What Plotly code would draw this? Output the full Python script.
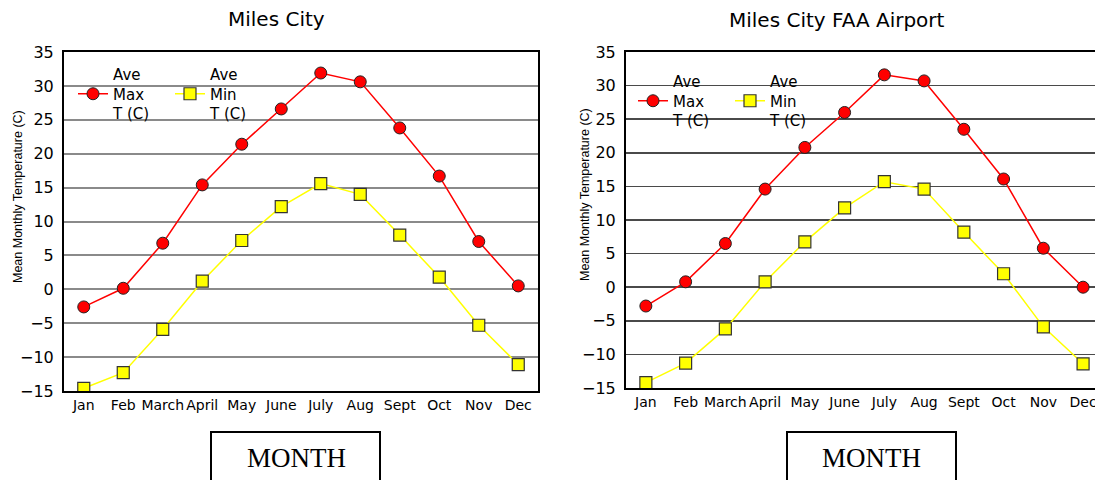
import plotly.graph_objects as go

months = ["Jan", "Feb", "March", "April", "May", "June", "July", "Aug", "Sept", "Oct", "Nov", "Dec"]

city_max = [-2.6, 0.15, 6.8, 15.4, 21.4, 26.6, 31.9, 30.6, 23.8, 16.7, 7.05, 0.5]
city_min = [-14.6, -12.3, -5.9, 1.2, 7.2, 12.2, 15.6, 14.0, 8.0, 1.8, -5.3, -11.1]

faa_max = [-2.8, 0.8, 6.5, 14.6, 20.8, 26.0, 31.6, 30.7, 23.5, 16.1, 5.8, 0.0]
faa_min = [-14.2, -11.3, -6.2, 0.8, 6.75, 11.8, 15.7, 14.6, 8.2, 2.0, -5.9, -11.4]

titles = ["Miles City", "Miles City FAA Airport"]
ytitle = "Mean Monthly Temperature (C)"
xtitle = "MONTH"
max_name = "Ave<br>Max<br>T (C)"
min_name = "Ave<br>Min<br>T (C)"
ytick_vals = [35, 30, 25, 20, 15, 10, 5, 0, -5, -10, -15]

W, H = 1095, 480
FONT = "DejaVu Sans, Liberation Sans, Arial, sans-serif"

fig = go.Figure()

def add_pair(xa, ya, leg, ymax, ymin):
    fig.add_trace(go.Scatter(
        x=months, y=ymax, name=max_name, mode="lines+markers",
        line=dict(color="#ff0000", width=1.5),
        marker=dict(symbol="circle", size=12, color="#ff0000",
                    line=dict(color="#222222", width=1)),
        xaxis=xa, yaxis=ya, legend=leg))
    fig.add_trace(go.Scatter(
        x=months, y=ymin, name=min_name, mode="lines+markers",
        line=dict(color="#ffff00", width=1.5),
        marker=dict(symbol="square", size=12, color="#ffff00",
                    line=dict(color="#333333", width=1.2)),
        xaxis=xa, yaxis=ya, legend=leg))

add_pair("x", "y", "legend", city_max, city_min)
add_pair("x2", "y2", "legend2", faa_max, faa_min)

def px_x(p):
    return p / W

def px_y(p):
    return 1 - p / H

ycommon = dict(range=[-15, 35], tickvals=ytick_vals, ticks="", showgrid=True,
               zeroline=False, showline=True, linecolor="#000000",
               linewidth=2, tickfont=dict(family=FONT, size=16, color="#000000"),
               ticklabelstandoff=5, fixedrange=True, automargin=False)
xcommon = dict(type="category", ticks="", showgrid=False, showline=True,
               linecolor="#000000", linewidth=2, automargin=False,
               tickfont=dict(family=FONT, size=14, color="#000000"), fixedrange=True)

legcommon = dict(orientation="h", xanchor="left", yanchor="top",
                 font=dict(family=FONT, size=15, color="#000000"),
                 bgcolor="rgba(0,0,0,0)", entrywidth=52, entrywidthmode="pixels",
                 itemwidth=30, valign="middle", tracegroupgap=0)

fig.update_layout(
    width=W, height=H, autosize=False, template="plotly",
    margin=dict(l=0, r=0, t=0, b=0, autoexpand=False),
    paper_bgcolor="#ffffff", plot_bgcolor="#ffffff",
    font=dict(family=FONT, color="#000000"),
    xaxis=dict(domain=[px_x(64), px_x(538)], range=[-0.5, 11.5], anchor="y",
               mirror=True, **xcommon),
    yaxis=dict(domain=[px_y(391), px_y(52)], anchor="x", mirror=True,
               gridcolor="#8a8a8a", gridwidth=2, **ycommon),
    xaxis2=dict(domain=[px_x(626), 1.0], range=[-0.5, 11.3], anchor="y2",
                mirror=True, **xcommon),
    yaxis2=dict(domain=[px_y(388), px_y(52)], anchor="x2", mirror=False,
                gridcolor="#4a4a4a", gridwidth=1.5, **ycommon),
    legend=dict(x=px_x(73), y=px_y(58), **legcommon),
    legend2=dict(x=px_x(633), y=px_y(65), **legcommon),
    showlegend=True,
)

annotations = []
for title, cx, cy in [(titles[0], 276, 19), (titles[1], 837, 20)]:
    annotations.append(dict(text=title, x=px_x(cx), y=px_y(cy), xref="paper", yref="paper",
                            showarrow=False, xanchor="center", yanchor="middle",
                            font=dict(family=FONT, size=20, color="#000000")))
for cx, cy in [(18, 197), (585, 195)]:
    annotations.append(dict(text=ytitle, x=px_x(cx), y=px_y(cy), xref="paper", yref="paper",
                            showarrow=False, textangle=-90, xanchor="center", yanchor="middle",
                            font=dict(family="Liberation Sans Narrow, Liberation Sans, Arial, sans-serif",
                                      size=12.5, color="#000000")))
shapes = []
for bx0, bx1, cx in [(211, 380, 296), (787, 956, 871)]:
    shapes.append(dict(type="rect", xref="paper", yref="paper",
                       x0=px_x(bx0), x1=px_x(bx1), y0=px_y(490), y1=px_y(432),
                       line=dict(color="#000000", width=2), fillcolor="#ffffff"))
    annotations.append(dict(text=xtitle, x=px_x(cx), y=px_y(458), xref="paper", yref="paper",
                            showarrow=False, xanchor="center", yanchor="middle",
                            font=dict(family="Liberation Serif, Times New Roman, serif",
                                      size=27, color="#000000")))
fig.update_layout(annotations=annotations, shapes=shapes)

fig.write_html("out.html", config={"displayModeBar": False, "staticPlot": True},
               post_script="document.body.style.margin='0px';document.body.style.overflow='hidden';")
